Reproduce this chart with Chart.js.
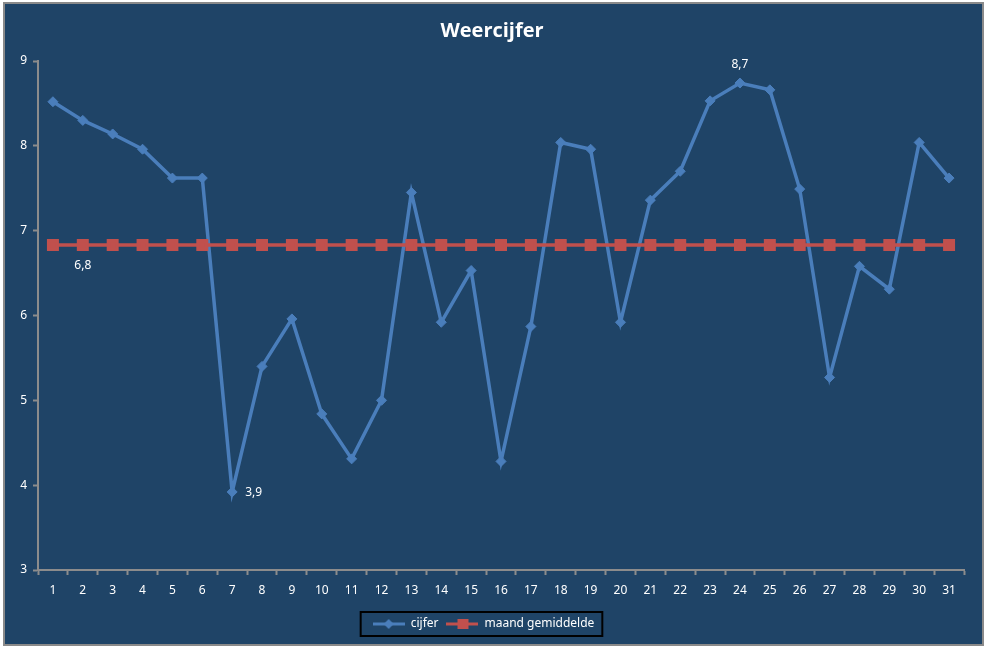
<!DOCTYPE html>
<html>
<head>
<meta charset="utf-8">
<script src="https://cdn.jsdelivr.net/npm/chart.js@4/dist/chart.umd.min.js"></script>
<style>
  html, body { margin: 0; padding: 0; background: #fff; }
  #wrap { width: 987px; height: 648px; }
</style>
</head>
<body>
<div id="wrap"><canvas id="weerCanvas" width="987" height="648"></canvas></div>
<script>
  // dagen van de maand
  var dagen = ['1','2','3','4','5','6','7','8','9','10','11','12','13','14','15','16',
               '17','18','19','20','21','22','23','24','25','26','27','28','29','30','31'];
  // weercijfer per dag
  var cijfer = [8.52, 8.30, 8.14, 7.96, 7.62, 7.62, 3.92, 5.40, 5.96, 4.84, 4.31, 5.00, 7.45, 5.92, 6.53, 4.28,
                5.87, 8.04, 7.96, 5.92, 7.36, 7.70, 8.53, 8.74, 8.66, 7.49, 5.27, 6.58, 6.31, 8.04, 7.62];
  var gemiddelde = 6.83;
  var maandGemiddelde = dagen.map(function () { return gemiddelde; });
  var yTicks = [3, 4, 5, 6, 7, 8, 9];
  var titel = 'Weercijfer';

  // labels bij enkele punten: [dataset, index, tekst, positie]
  var puntLabels = [
    [1, 1, '6,8', 'below'],
    [0, 6, '3,9', 'right'],
    [0, 23, '8,7', 'above']
  ];

  var blauw = '#4a7ebb';
  var rood = '#c0504d';
  var achtergrond = '#1f4467';
  var grijs = '#8c8c8c';
  var font = '"Noto Sans", "DejaVu Sans", sans-serif';

  function legendIcon(color, style) {
    var c = document.createElement('canvas');
    c.width = 32; c.height = 14;
    var g = c.getContext('2d');
    g.strokeStyle = color; g.lineWidth = 3;
    g.beginPath(); g.moveTo(0, 7); g.lineTo(32, 7); g.stroke();
    g.fillStyle = color;
    if (style === 'diamond') {
      g.beginPath(); g.moveTo(16, 2); g.lineTo(21, 7); g.lineTo(16, 12); g.lineTo(11, 7); g.closePath(); g.fill();
    } else {
      g.fillRect(11, 2, 11, 10);
    }
    return c;
  }

  var achtergrondPlugin = {
    id: 'achtergrond',
    beforeDraw: function (chart) {
      var c = chart.ctx;
      c.save();
      c.fillStyle = '#ffffff';
      c.fillRect(0, 0, chart.width, chart.height);
      c.fillStyle = achtergrond;
      c.fillRect(4, 3, 979, 642);
      c.strokeStyle = '#8a8a8a';
      c.lineWidth = 2;
      c.strokeRect(4, 3, 979, 642);
      c.restore();
    },
    afterDraw: function (chart) {
      var c = chart.ctx;
      // titel, gecentreerd op het hele vlak
      c.save();
      c.fillStyle = '#ffffff';
      c.font = 'bold 20px "Open Sans", sans-serif';
      c.textAlign = 'center';
      c.textBaseline = 'middle';
      c.fillText(titel, 492, 31);
      c.restore();
      // rand om de legenda
      var boxes = chart.legend.legendHitBoxes;
      if (boxes && boxes.length) {
        var l = boxes[0].left - 12;
        var r = boxes[boxes.length - 1].left + boxes[boxes.length - 1].width + 8;
        var t = boxes[0].top - 6;
        var b = boxes[0].top + boxes[0].height + 6;
        c.save();
        c.strokeStyle = '#000000';
        c.lineWidth = 2;
        c.strokeRect(l, t, r - l, b - t);
        c.restore();
      }
      // punt labels
      c.save();
      c.fillStyle = '#ffffff';
      c.font = '12px ' + font;
      c.textBaseline = 'middle';
      puntLabels.forEach(function (p) {
        var el = chart.getDatasetMeta(p[0]).data[p[1]];
        if (p[3] === 'below') { c.textAlign = 'center'; c.fillText(p[2], el.x, el.y + 20); }
        if (p[3] === 'above') { c.textAlign = 'center'; c.fillText(p[2], el.x, el.y - 18); }
        if (p[3] === 'right') { c.textAlign = 'left'; c.fillText(p[2], el.x + 13, el.y + 1); }
      });
      c.restore();
    }
  };

  var ctx = document.getElementById('weerCanvas').getContext('2d');
  var chart = new Chart(ctx, {
    type: 'line',
    data: {
      labels: dagen,
      datasets: [{
        label: 'cijfer',
        data: cijfer,
        borderColor: blauw,
        backgroundColor: blauw,
        borderWidth: 3.5,
        pointStyle: 'rectRot',
        pointRadius: 5,
        pointBackgroundColor: blauw,
        pointBorderColor: blauw,
        pointBorderWidth: 1,
        tension: 0,
        order: 2
      }, {
        label: 'maand gemiddelde',
        data: maandGemiddelde,
        borderColor: rood,
        backgroundColor: rood,
        borderWidth: 3.5,
        pointStyle: 'rect',
        pointRadius: 6,
        pointBackgroundColor: rood,
        pointBorderColor: rood,
        tension: 0,
        order: 1
      }]
    },
    options: {
      responsive: false,
      animation: false,
      devicePixelRatio: 1,
      layout: { padding: { left: 3, right: 23, top: 61, bottom: 8 } },
      plugins: {
        title: { display: false },
        legend: {
          position: 'bottom',
          labels: {
            color: '#ffffff',
            font: { family: font, size: 12 },
            usePointStyle: true,
            pointStyleWidth: 32,
            padding: 8,
            generateLabels: function (chart) {
              return [
                { text: 'cijfer', pointStyle: legendIcon(blauw, 'diamond'), fontColor: '#ffffff', datasetIndex: 0, lineWidth: 0, strokeStyle: 'transparent', fillStyle: 'transparent' },
                { text: 'maand gemiddelde', pointStyle: legendIcon(rood, 'square'), fontColor: '#ffffff', datasetIndex: 1, lineWidth: 0, strokeStyle: 'transparent', fillStyle: 'transparent' }
              ];
            }
          }
        },
        tooltip: { enabled: false }
      },
      scales: {
        x: {
          offset: true,
          grid: { display: true, drawOnChartArea: false, offset: true, color: grijs, tickLength: 5, tickWidth: 2 },
          border: { color: grijs, width: 2 },
          ticks: { color: '#ffffff', font: { family: font, size: 12 }, padding: 8, maxRotation: 0, autoSkip: false },
          afterFit: function (axis) { axis.height = 40; }
        },
        y: {
          min: 3,
          max: 9,
          afterBuildTicks: function (axis) { axis.ticks = yTicks.map(function (v) { return { value: v }; }); },
          grid: { display: true, drawOnChartArea: false, color: grijs, tickLength: 5, tickWidth: 2 },
          border: { color: grijs, width: 2 },
          ticks: { color: '#ffffff', font: { family: font, size: 12 }, padding: 6 },
          afterFit: function (axis) { axis.width = 35; }
        }
      }
    },
    plugins: [achtergrondPlugin]
  });
</script>
</body>
</html>
